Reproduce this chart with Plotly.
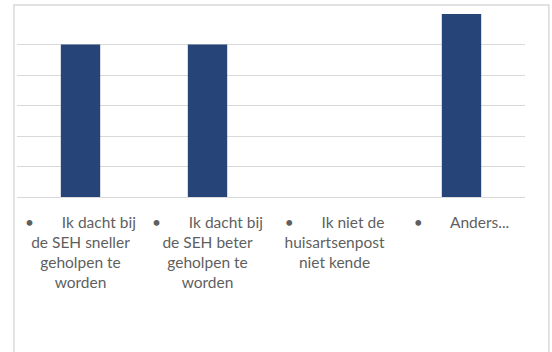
import plotly.graph_objects as go

# Survey answers and counts
categories = [
    "•\u00a0\u00a0\u00a0\u00a0\u00a0\u00a0\u00a0Ik dacht bij<br>de SEH sneller<br>geholpen te<br>worden",
    "•\u00a0\u00a0\u00a0\u00a0\u00a0\u00a0\u00a0Ik dacht bij<br>de SEH beter<br>geholpen te<br>worden",
    "•\u00a0\u00a0\u00a0\u00a0\u00a0\u00a0\u00a0Ik niet de<br>huisartsenpost<br>niet kende",
    "•\u00a0\u00a0\u00a0\u00a0\u00a0\u00a0\u00a0Anders...",
]
counts = [5, 5, 0, 6]
y_ticks = [0, 1, 2, 3, 4, 5, 6]

fig = go.Figure(
    go.Bar(
        x=categories,
        y=counts,
        marker=dict(color="#264478", line=dict(width=0)),
    )
)

fig.update_layout(
    width=552,
    height=352,
    margin=dict(l=17, r=27, t=14, b=155),
    paper_bgcolor="white",
    plot_bgcolor="white",
    bargap=0.69,
    showlegend=False,
    font=dict(family="Lato", size=15.5, color="#5f5f5f"),
    shapes=[
        # light frame around the chart area
        dict(
            type="rect",
            xref="paper",
            yref="paper",
            x0=-0.006,
            x1=1.047,
            y0=-1.0,
            y1=1.049,
            line=dict(color="#d9d9d9", width=1.5),
            fillcolor="rgba(0,0,0,0)",
            layer="below",
        )
    ],
)

fig.update_xaxes(
    showgrid=False,
    showline=False,
    zeroline=False,
    ticks="",
    tickangle=0,
    ticklabelstandoff=14,
    tickfont=dict(family="Lato", size=15.5, color="#5f5f5f"),
)
fig.update_yaxes(
    range=[0, 6],
    tickvals=y_ticks,
    showticklabels=False,
    showgrid=True,
    gridcolor="#d9d9d9",
    gridwidth=1,
    zeroline=True,
    zerolinecolor="#d9d9d9",
    zerolinewidth=1,
    showline=False,
)

fig.write_html("out.html")
